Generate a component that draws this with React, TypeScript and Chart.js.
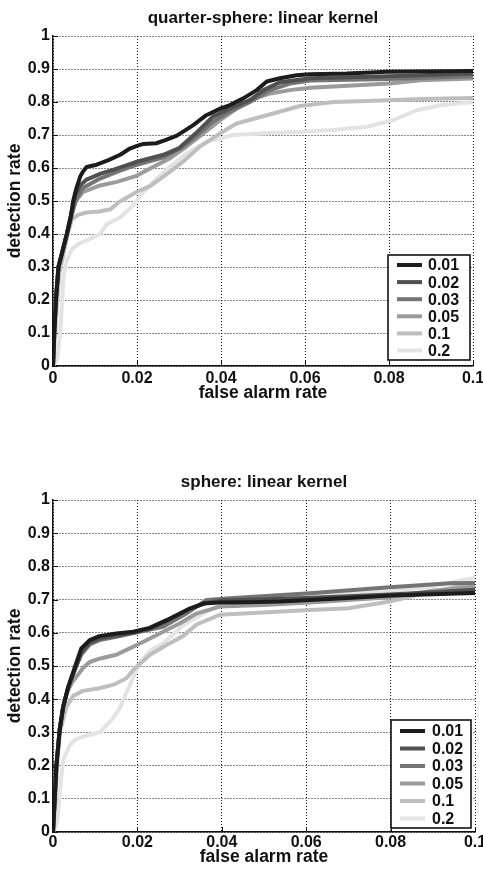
import React, { useEffect, useRef } from 'react';
import { Chart, registerables } from 'chart.js';

Chart.register(...registerables);

type Pt = [number, number];

const seriesLabels = ['0.01', '0.02', '0.03', '0.05', '0.1', '0.2'];
const seriesColors = ['#1c1c1c', '#505050', '#747474', '#9b9b9b', '#bebebe', '#e3e3e3'];

const xTickValues = [0, 0.02, 0.04, 0.06, 0.08, 0.1];
const xTickLabels = ['0', '0.02', '0.04', '0.06', '0.08', '0.1'];
const yTickValues = [0, 0.1, 0.2, 0.3, 0.4, 0.5, 0.6, 0.7, 0.8, 0.9, 1];
const yTickLabels = ['0', '0.1', '0.2', '0.3', '0.4', '0.5', '0.6', '0.7', '0.8', '0.9', '1'];

const titleTop = 'quarter-sphere: linear kernel';
const titleBottom = 'sphere: linear kernel';
const xAxisTitle = 'false alarm rate';
const yAxisTitle = 'detection rate';

// quarter-sphere
const qs001: Pt[] = [[0,0],[0.0003,0.1],[0.0007,0.2],[0.0013,0.3],[0.0023,0.35],[0.0033,0.4],[0.0042,0.45],[0.0048,0.5],[0.0056,0.54],[0.0065,0.575],[0.0072,0.59],[0.008,0.603],[0.0104,0.61],[0.0132,0.624],[0.016,0.64],[0.0183,0.659],[0.02,0.667],[0.0215,0.673],[0.0246,0.675],[0.0269,0.685],[0.0295,0.698],[0.0334,0.73],[0.0365,0.76],[0.0398,0.78],[0.042,0.79],[0.0453,0.811],[0.0485,0.836],[0.0509,0.862],[0.054,0.872],[0.058,0.881],[0.0612,0.884],[0.07,0.886],[0.0795,0.892],[0.1,0.894]];
const qs002: Pt[] = [[0,0],[0.0003,0.1],[0.0007,0.2],[0.0013,0.3],[0.0023,0.35],[0.0033,0.4],[0.0045,0.47],[0.0054,0.52],[0.0065,0.548],[0.008,0.565],[0.0112,0.582],[0.0152,0.598],[0.0183,0.612],[0.02,0.619],[0.0263,0.64],[0.03,0.66],[0.034,0.705],[0.038,0.755],[0.042,0.78],[0.0469,0.806],[0.0501,0.836],[0.054,0.86],[0.0612,0.872],[0.08,0.878],[0.1,0.886]];
const qs003: Pt[] = [[0,0],[0.0003,0.1],[0.0007,0.2],[0.0013,0.3],[0.0023,0.35],[0.0033,0.4],[0.0045,0.46],[0.0055,0.505],[0.0072,0.54],[0.0112,0.568],[0.0152,0.588],[0.02,0.61],[0.0263,0.632],[0.031,0.665],[0.034,0.695],[0.038,0.74],[0.042,0.77],[0.0469,0.8],[0.0517,0.836],[0.0564,0.856],[0.0612,0.865],[0.08,0.87],[0.1,0.878]];
const qs005: Pt[] = [[0,0],[0.0003,0.1],[0.0007,0.2],[0.0013,0.3],[0.0023,0.35],[0.0033,0.4],[0.004,0.445],[0.0054,0.5],[0.0072,0.528],[0.0112,0.547],[0.0152,0.558],[0.0183,0.57],[0.02,0.577],[0.023,0.598],[0.0279,0.63],[0.0318,0.665],[0.0358,0.705],[0.0398,0.745],[0.0437,0.78],[0.0469,0.806],[0.0517,0.826],[0.0564,0.836],[0.0612,0.843],[0.0802,0.856],[0.0874,0.866],[0.1,0.871]];
const qs01: Pt[] = [[0,0],[0.0005,0.1],[0.001,0.2],[0.0015,0.28],[0.0025,0.34],[0.0035,0.4],[0.0045,0.445],[0.006,0.458],[0.008,0.465],[0.011,0.468],[0.0137,0.475],[0.0155,0.495],[0.0175,0.51],[0.02,0.528],[0.0231,0.545],[0.0275,0.585],[0.031,0.62],[0.035,0.665],[0.0398,0.705],[0.0437,0.735],[0.0509,0.76],[0.0588,0.788],[0.0668,0.8],[0.0748,0.803],[0.0827,0.807],[0.0906,0.81],[0.1,0.812]];
const qs02: Pt[] = [[0,0],[0.001,0.02],[0.0017,0.1],[0.0021,0.18],[0.0025,0.27],[0.0033,0.32],[0.0045,0.355],[0.0064,0.372],[0.0096,0.39],[0.0112,0.4],[0.0128,0.43],[0.016,0.45],[0.019,0.486],[0.0215,0.527],[0.0245,0.565],[0.027,0.595],[0.0318,0.644],[0.0366,0.68],[0.0429,0.7],[0.0509,0.705],[0.0588,0.71],[0.0668,0.715],[0.0748,0.725],[0.081,0.745],[0.0866,0.775],[0.0922,0.79],[0.1,0.8]];

// sphere
const sp001: Pt[] = [[0,0],[0.0004,0.1],[0.0008,0.2],[0.0016,0.31],[0.0024,0.377],[0.0036,0.437],[0.0052,0.497],[0.0067,0.553],[0.0087,0.578],[0.011,0.59],[0.015,0.598],[0.019,0.603],[0.0229,0.615],[0.0269,0.638],[0.0324,0.673],[0.0356,0.688],[0.0395,0.691],[0.0458,0.692],[0.0538,0.694],[0.0609,0.699],[0.07,0.705],[0.08,0.712],[0.09,0.716],[0.1,0.72]];
const sp002: Pt[] = [[0,0],[0.0004,0.1],[0.0008,0.2],[0.0016,0.31],[0.0024,0.375],[0.0036,0.435],[0.0052,0.49],[0.0067,0.54],[0.0087,0.57],[0.011,0.583],[0.015,0.592],[0.019,0.6],[0.0229,0.612],[0.0269,0.635],[0.0324,0.672],[0.0364,0.69],[0.04,0.697],[0.06,0.705],[0.08,0.715],[0.09,0.722],[0.1,0.73]];
const sp003: Pt[] = [[0,0],[0.0004,0.1],[0.0008,0.2],[0.0016,0.31],[0.0024,0.375],[0.0036,0.435],[0.0052,0.49],[0.0067,0.535],[0.0087,0.565],[0.011,0.578],[0.015,0.588],[0.0182,0.597],[0.0261,0.618],[0.0316,0.658],[0.0364,0.699],[0.0419,0.704],[0.0609,0.719],[0.0798,0.737],[0.0941,0.749],[0.1,0.75]];
const sp005: Pt[] = [[0,0],[0.0004,0.1],[0.0008,0.2],[0.0016,0.31],[0.0024,0.375],[0.0033,0.42],[0.0045,0.45],[0.0063,0.48],[0.0071,0.494],[0.0087,0.512],[0.011,0.522],[0.015,0.534],[0.0182,0.553],[0.0206,0.568],[0.0253,0.598],[0.03,0.628],[0.034,0.658],[0.0395,0.679],[0.0498,0.684],[0.0609,0.691],[0.0798,0.707],[0.09,0.727],[0.1,0.739]];
const sp01: Pt[] = [[0,0],[0.0005,0.08],[0.001,0.2],[0.0016,0.3],[0.0032,0.377],[0.0048,0.41],[0.0071,0.425],[0.011,0.433],[0.0142,0.443],[0.0174,0.463],[0.019,0.488],[0.0229,0.533],[0.0269,0.563],[0.0308,0.59],[0.034,0.625],[0.0395,0.654],[0.0498,0.661],[0.0609,0.669],[0.07,0.674],[0.0798,0.694],[0.0862,0.714],[0.0941,0.734],[0.1,0.751]];
const sp02: Pt[] = [[0,0],[0.001,0.03],[0.0016,0.117],[0.0024,0.216],[0.004,0.262],[0.0055,0.28],[0.0079,0.29],[0.0111,0.3],[0.0127,0.322],[0.0142,0.342],[0.0158,0.372],[0.0174,0.42],[0.019,0.465],[0.0206,0.51],[0.0229,0.545],[0.0261,0.568],[0.0308,0.623],[0.0356,0.658],[0.0395,0.684],[0.0498,0.699],[0.0609,0.709],[0.0798,0.724],[0.09,0.74],[0.1,0.766]];

const topSeries: Pt[][] = [qs001, qs002, qs003, qs005, qs01, qs02];
const bottomSeries: Pt[][] = [sp001, sp002, sp003, sp005, sp01, sp02];

const FONT = '"Liberation Sans", Arial, Helvetica, sans-serif';
const INK = '#111111';

const legendBoxPlugin = {
  id: 'legendBox',
  afterDatasetsDraw(chart: any, _args: any, opts: any) {
    const { ctx, chartArea } = chart;
    const right = chartArea.right - opts.insetRight;
    const bottom = chartArea.bottom - opts.insetBottom;
    const left = right - opts.width;
    const top = bottom - opts.height;
    ctx.save();
    ctx.fillStyle = '#ffffff';
    ctx.fillRect(left, top, opts.width, opts.height);
    ctx.strokeStyle = INK;
    ctx.lineWidth = 1.6;
    ctx.strokeRect(left, top, opts.width, opts.height);
    chart.data.datasets.forEach((ds: any, i: number) => {
      const y = top + opts.firstRow + i * opts.rowH;
      ctx.strokeStyle = ds.borderColor;
      ctx.lineWidth = 4;
      ctx.beginPath();
      ctx.moveTo(left + opts.lineStart, y);
      ctx.lineTo(left + opts.lineEnd, y);
      ctx.stroke();
      ctx.fillStyle = INK;
      ctx.font = 'bold 16px ' + FONT;
      ctx.textBaseline = 'middle';
      ctx.textAlign = 'left';
      ctx.fillText(ds.label, left + opts.textX, y + 1);
    });
    ctx.restore();
  },
};

const inwardTicksPlugin = {
  id: 'inwardTicks',
  beforeDatasetsDraw(chart: any) {
    const { ctx, chartArea } = chart;
    const xs = chart.scales.x;
    const ys = chart.scales.y;
    ctx.save();
    ctx.strokeStyle = INK;
    ctx.lineWidth = 1;
    ctx.beginPath();
    xTickValues.forEach((v) => {
      const px = Math.round(xs.getPixelForValue(v)) + 0.5;
      ctx.moveTo(px, chartArea.bottom);
      ctx.lineTo(px, chartArea.bottom - 5);
    });
    yTickValues.forEach((v) => {
      const py = Math.round(ys.getPixelForValue(v)) + 0.5;
      ctx.moveTo(chartArea.left, py);
      ctx.lineTo(chartArea.left + 5, py);
    });
    ctx.stroke();
    ctx.restore();
  },
};

type Geom = {
  height: number;
  titlePadTop: number;
  titlePadBottom: number;
  padRight: number;
  xAxisHeight: number;
  xTickPad: number;
  xTitlePadBottom: number;
  legend: any;
};

function buildConfig(title: string, series: Pt[][], g: Geom): any {
  return {
    type: 'line',
    data: {
      datasets: series.map((pts, i) => ({
        label: seriesLabels[i],
        data: pts.map(([x, y]) => ({ x, y })),
        borderColor: seriesColors[i],
        backgroundColor: seriesColors[i],
        borderWidth: 4,
        pointRadius: 0,
        tension: 0,
        fill: false,
        borderJoinStyle: 'round',
      })),
    },
    options: {
      animation: false,
      responsive: false,
      devicePixelRatio: 1,
      layout: { padding: { left: 0, right: g.padRight, top: 0, bottom: 0 } },
      plugins: {
        legend: { display: false },
        tooltip: { enabled: false },
        title: {
          display: true,
          text: title,
          fullSize: false,
          color: INK,
          font: { family: FONT, size: 17, weight: 'bold', lineHeight: 1.2 },
          padding: { top: g.titlePadTop, bottom: g.titlePadBottom },
        },
        legendBox: g.legend,
      },
      scales: {
        x: {
          type: 'linear',
          min: 0,
          max: 0.1,
          afterBuildTicks: (s: any) => {
            s.ticks = xTickValues.map((v) => ({ value: v }));
          },
          afterFit: (s: any) => {
            s.height = g.xAxisHeight;
            s.paddingLeft = 0;
            s.paddingRight = 0;
          },
          ticks: {
            autoSkip: false,
            maxRotation: 0,
            padding: g.xTickPad,
            color: INK,
            font: { family: FONT, size: 16, weight: 'bold' },
            callback: (_v: any, i: number) => xTickLabels[i],
          },
          grid: { color: INK, lineWidth: 1, drawTicks: false },
          border: { display: true, color: INK, width: 1.5, dash: [1, 2] },
          title: {
            display: true,
            text: xAxisTitle,
            color: INK,
            font: { family: FONT, size: 17.5, weight: 'bold', lineHeight: 1.2 },
            padding: { top: 0, bottom: g.xTitlePadBottom },
          },
        },
        y: {
          type: 'linear',
          min: 0,
          max: 1,
          afterBuildTicks: (s: any) => {
            s.ticks = yTickValues.map((v) => ({ value: v }));
          },
          afterFit: (s: any) => {
            s.width = 53;
            s.paddingTop = 0;
            s.paddingBottom = 0;
          },
          ticks: {
            autoSkip: false,
            padding: 3,
            color: INK,
            font: { family: FONT, size: 16, weight: 'bold' },
            callback: (_v: any, i: number) => yTickLabels[i],
          },
          grid: { color: INK, lineWidth: 1, drawTicks: false },
          border: { display: true, color: INK, width: 1.5, dash: [1, 2] },
          title: {
            display: true,
            text: yAxisTitle,
            color: INK,
            font: { family: FONT, size: 17.5, weight: 'bold', lineHeight: 1.2 },
            padding: { top: 5, bottom: 0 },
          },
        },
      },
    },
    plugins: [legendBoxPlugin, inwardTicksPlugin],
  };
}

function ChartPanel({ title, series, geom, top }: { title: string; series: Pt[][]; geom: Geom; top: number }) {
  const ref = useRef<HTMLCanvasElement | null>(null);
  useEffect(() => {
    if (!ref.current) return;
    const chart = new Chart(ref.current, buildConfig(title, series, geom));
    return () => chart.destroy();
  }, [title, series, geom]);
  return (
    <canvas
      ref={ref}
      width={483}
      height={geom.height}
      style={{ position: 'absolute', left: 0, top, width: 483, height: geom.height, display: 'block' }}
    />
  );
}

const topGeom: Geom = {
  height: 410,
  titlePadTop: 7.8,
  titlePadBottom: 7.8,
  padRight: 10,
  xAxisHeight: 44,
  xTickPad: 2.5,
  xTitlePadBottom: 6.5,
  legend: { width: 82, height: 105, insetRight: 3, insetBottom: 6, firstRow: 10, rowH: 17.1, lineStart: 9, lineEnd: 34, textX: 40 },
};

const bottomGeom: Geom = {
  height: 460,
  titlePadTop: 61.8,
  titlePadBottom: 7.8,
  padRight: 8,
  xAxisHeight: 38,
  xTickPad: 0.5,
  xTitlePadBottom: 2.5,
  legend: { width: 80, height: 108, insetRight: 4, insetBottom: 4, firstRow: 11, rowH: 17.5, lineStart: 9, lineEnd: 34, textX: 41 },
};

export default function App() {
  return (
    <div style={{ position: 'absolute', left: 0, top: 0, width: 483, height: 870, background: '#ffffff', overflow: 'hidden' }}>
      <ChartPanel title={titleTop} series={topSeries} geom={topGeom} top={0} />
      <ChartPanel title={titleBottom} series={bottomSeries} geom={bottomGeom} top={410} />
    </div>
  );
}
